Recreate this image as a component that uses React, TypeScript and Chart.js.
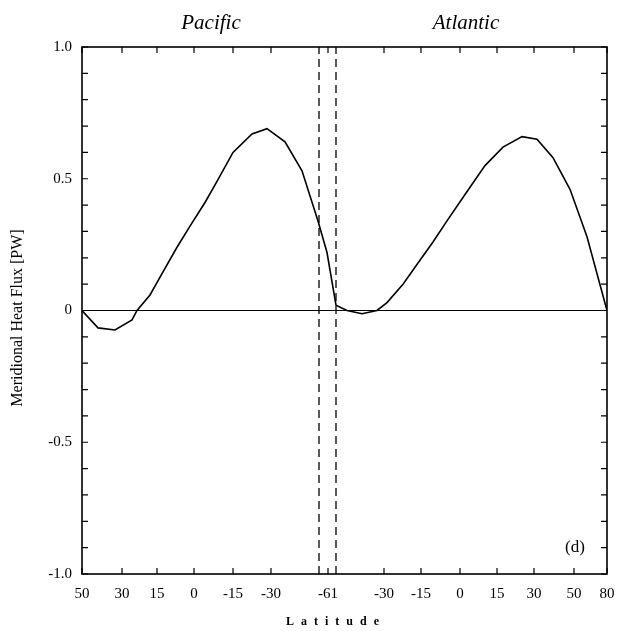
import React, { useEffect, useRef } from "react";
import { Chart, registerables } from "chart.js";

Chart.register(...registerables);

// Axis: distance along the Pacific -> Atlantic section (arbitrary units)
const tickPositions = [0, 40, 75, 112, 151, 189, 246, 302, 339, 378, 415, 452, 492, 525];
const tickLabels = ["50", "30", "15", "0", "-15", "-30", "-61", "-30", "-15", "0", "15", "30", "50", "80"];
const dividerPositions = [237, 254];

const yTickValues = [1, 0.5, 0, -0.5, -1];
const yTickLabels = ["1.0", "0.5", "0", "-0.5", "-1.0"];

const sectionDist = [0, 16, 33, 50, 55, 68, 80, 95, 108, 123, 135, 151, 170, 185, 203, 220, 236, 245, 254, 265, 280, 295, 305, 321, 336, 351, 365, 383, 403, 421, 440, 455, 471, 488, 505, 525];
const heatFlux = [0, -0.066, -0.074, -0.036, 0, 0.059, 0.14, 0.24, 0.32, 0.41, 0.49, 0.6, 0.67, 0.69, 0.64, 0.53, 0.34, 0.22, 0.02, 0, -0.012, 0, 0.03, 0.1, 0.18, 0.26, 0.34, 0.44, 0.55, 0.62, 0.66, 0.65, 0.58, 0.46, 0.28, 0];

const basinTitles = ["Pacific", "Atlantic"];
const panelLabel = "(d)";
const yTitle = "Meridional Heat Flux [PW]";
const xTitle = "Latitude";

const SERIF = "'Liberation Serif', 'Times New Roman', serif";

const framePlugin = {
  id: "frame",
  afterDraw(chart: any) {
    const { ctx, chartArea } = chart;
    const { left, right, top, bottom } = chartArea;
    const xs = chart.scales.x;
    const ys = chart.scales.y;
    ctx.save();
    ctx.strokeStyle = "#000";
    ctx.lineWidth = 1.6;
    ctx.strokeRect(left, top, right - left, bottom - top);
    ctx.lineWidth = 1.2;
    const tl = 6;
    ctx.beginPath();
    tickPositions.forEach((v) => {
      const px = xs.getPixelForValue(v);
      ctx.moveTo(px, bottom);
      ctx.lineTo(px, bottom - tl);
      ctx.moveTo(px, top);
      ctx.lineTo(px, top + tl);
    });
    for (let i = -10; i <= 10; i++) {
      const py = ys.getPixelForValue(i / 10);
      ctx.moveTo(left, py);
      ctx.lineTo(left + tl, py);
      ctx.moveTo(right, py);
      ctx.lineTo(right - tl, py);
    }
    ctx.stroke();

    ctx.fillStyle = "#000";
    ctx.textAlign = "center";
    ctx.textBaseline = "middle";
    // x tick labels
    ctx.font = `15px ${SERIF}`;
    tickPositions.forEach((v, i) => {
      ctx.fillText(tickLabels[i], xs.getPixelForValue(v), bottom + 20);
    });
    // basin titles
    ctx.font = `italic 21px ${SERIF}`;
    ctx.fillText(basinTitles[0], 211, 23);
    ctx.fillText(basinTitles[1], 466, 23);
    // panel label
    ctx.font = `17px ${SERIF}`;
    ctx.fillText(panelLabel, 575, 548);
    // x title
    ctx.font = `bold 12px ${SERIF}`;
    (ctx as any).letterSpacing = "7px";
    ctx.fillText(xTitle, 336, 622);
    (ctx as any).letterSpacing = "0px";
    // y title
    ctx.translate(18, 318);
    ctx.rotate(-Math.PI / 2);
    ctx.font = `16px ${SERIF}`;
    ctx.fillText(yTitle, 0, 0);
    ctx.restore();
  },
};

export default function App() {
  const ref = useRef<HTMLCanvasElement | null>(null);
  useEffect(() => {
    if (!ref.current) return;
    const points = sectionDist.map((x, i) => ({ x, y: heatFlux[i] }));
    const dividers = dividerPositions.map((p) => ({
      type: "line" as const,
      data: [
        { x: p, y: -1 },
        { x: p, y: 1 },
      ],
      borderColor: "#000",
      borderWidth: 1.3,
      borderDash: [8, 5],
      pointRadius: 0,
    }));
    const chart = new Chart(ref.current, {
      type: "line",
      data: {
        datasets: [
          {
            data: points,
            borderColor: "#000",
            borderWidth: 1.6,
            pointRadius: 0,
            tension: 0,
          },
          {
            data: [
              { x: tickPositions[0], y: 0 },
              { x: tickPositions[tickPositions.length - 1], y: 0 },
            ],
            borderColor: "#000",
            borderWidth: 1.2,
            pointRadius: 0,
          },
          ...dividers,
        ],
      },
      options: {
        responsive: false,
        animation: false,
        events: [],
        layout: { padding: { left: 0, top: 47, right: 12, bottom: 0 } },
        plugins: { legend: { display: false }, tooltip: { enabled: false } },
        scales: {
          x: {
            type: "linear",
            min: tickPositions[0],
            max: tickPositions[tickPositions.length - 1],
            grid: { display: false, drawTicks: false },
            border: { display: false },
            ticks: { display: false },
            afterFit(scale: any) {
              scale.height = 57;
              scale.paddingLeft = 0;
              scale.paddingRight = 0;
            },
          },
          y: {
            type: "linear",
            min: -1,
            max: 1,
            grid: { display: false, drawTicks: false },
            border: { display: false },
            afterFit(scale: any) {
              scale.width = 82;
              scale.paddingTop = 0;
              scale.paddingBottom = 0;
            },
            afterBuildTicks(scale: any) {
              scale.ticks = yTickValues.map((v) => ({ value: v }));
            },
            ticks: {
              padding: 10,
              color: "#000",
              font: { family: SERIF, size: 15 },
              callback: (_v: any, i: number) => yTickLabels[i],
            },
          },
        },
      },
      plugins: [framePlugin],
    });
    return () => chart.destroy();
  }, []);
  return (
    <div style={{ position: "fixed", left: 0, top: 0, width: 619, height: 631, background: "#fff" }}>
      <canvas ref={ref} width={619} height={631} />
    </div>
  );
}
